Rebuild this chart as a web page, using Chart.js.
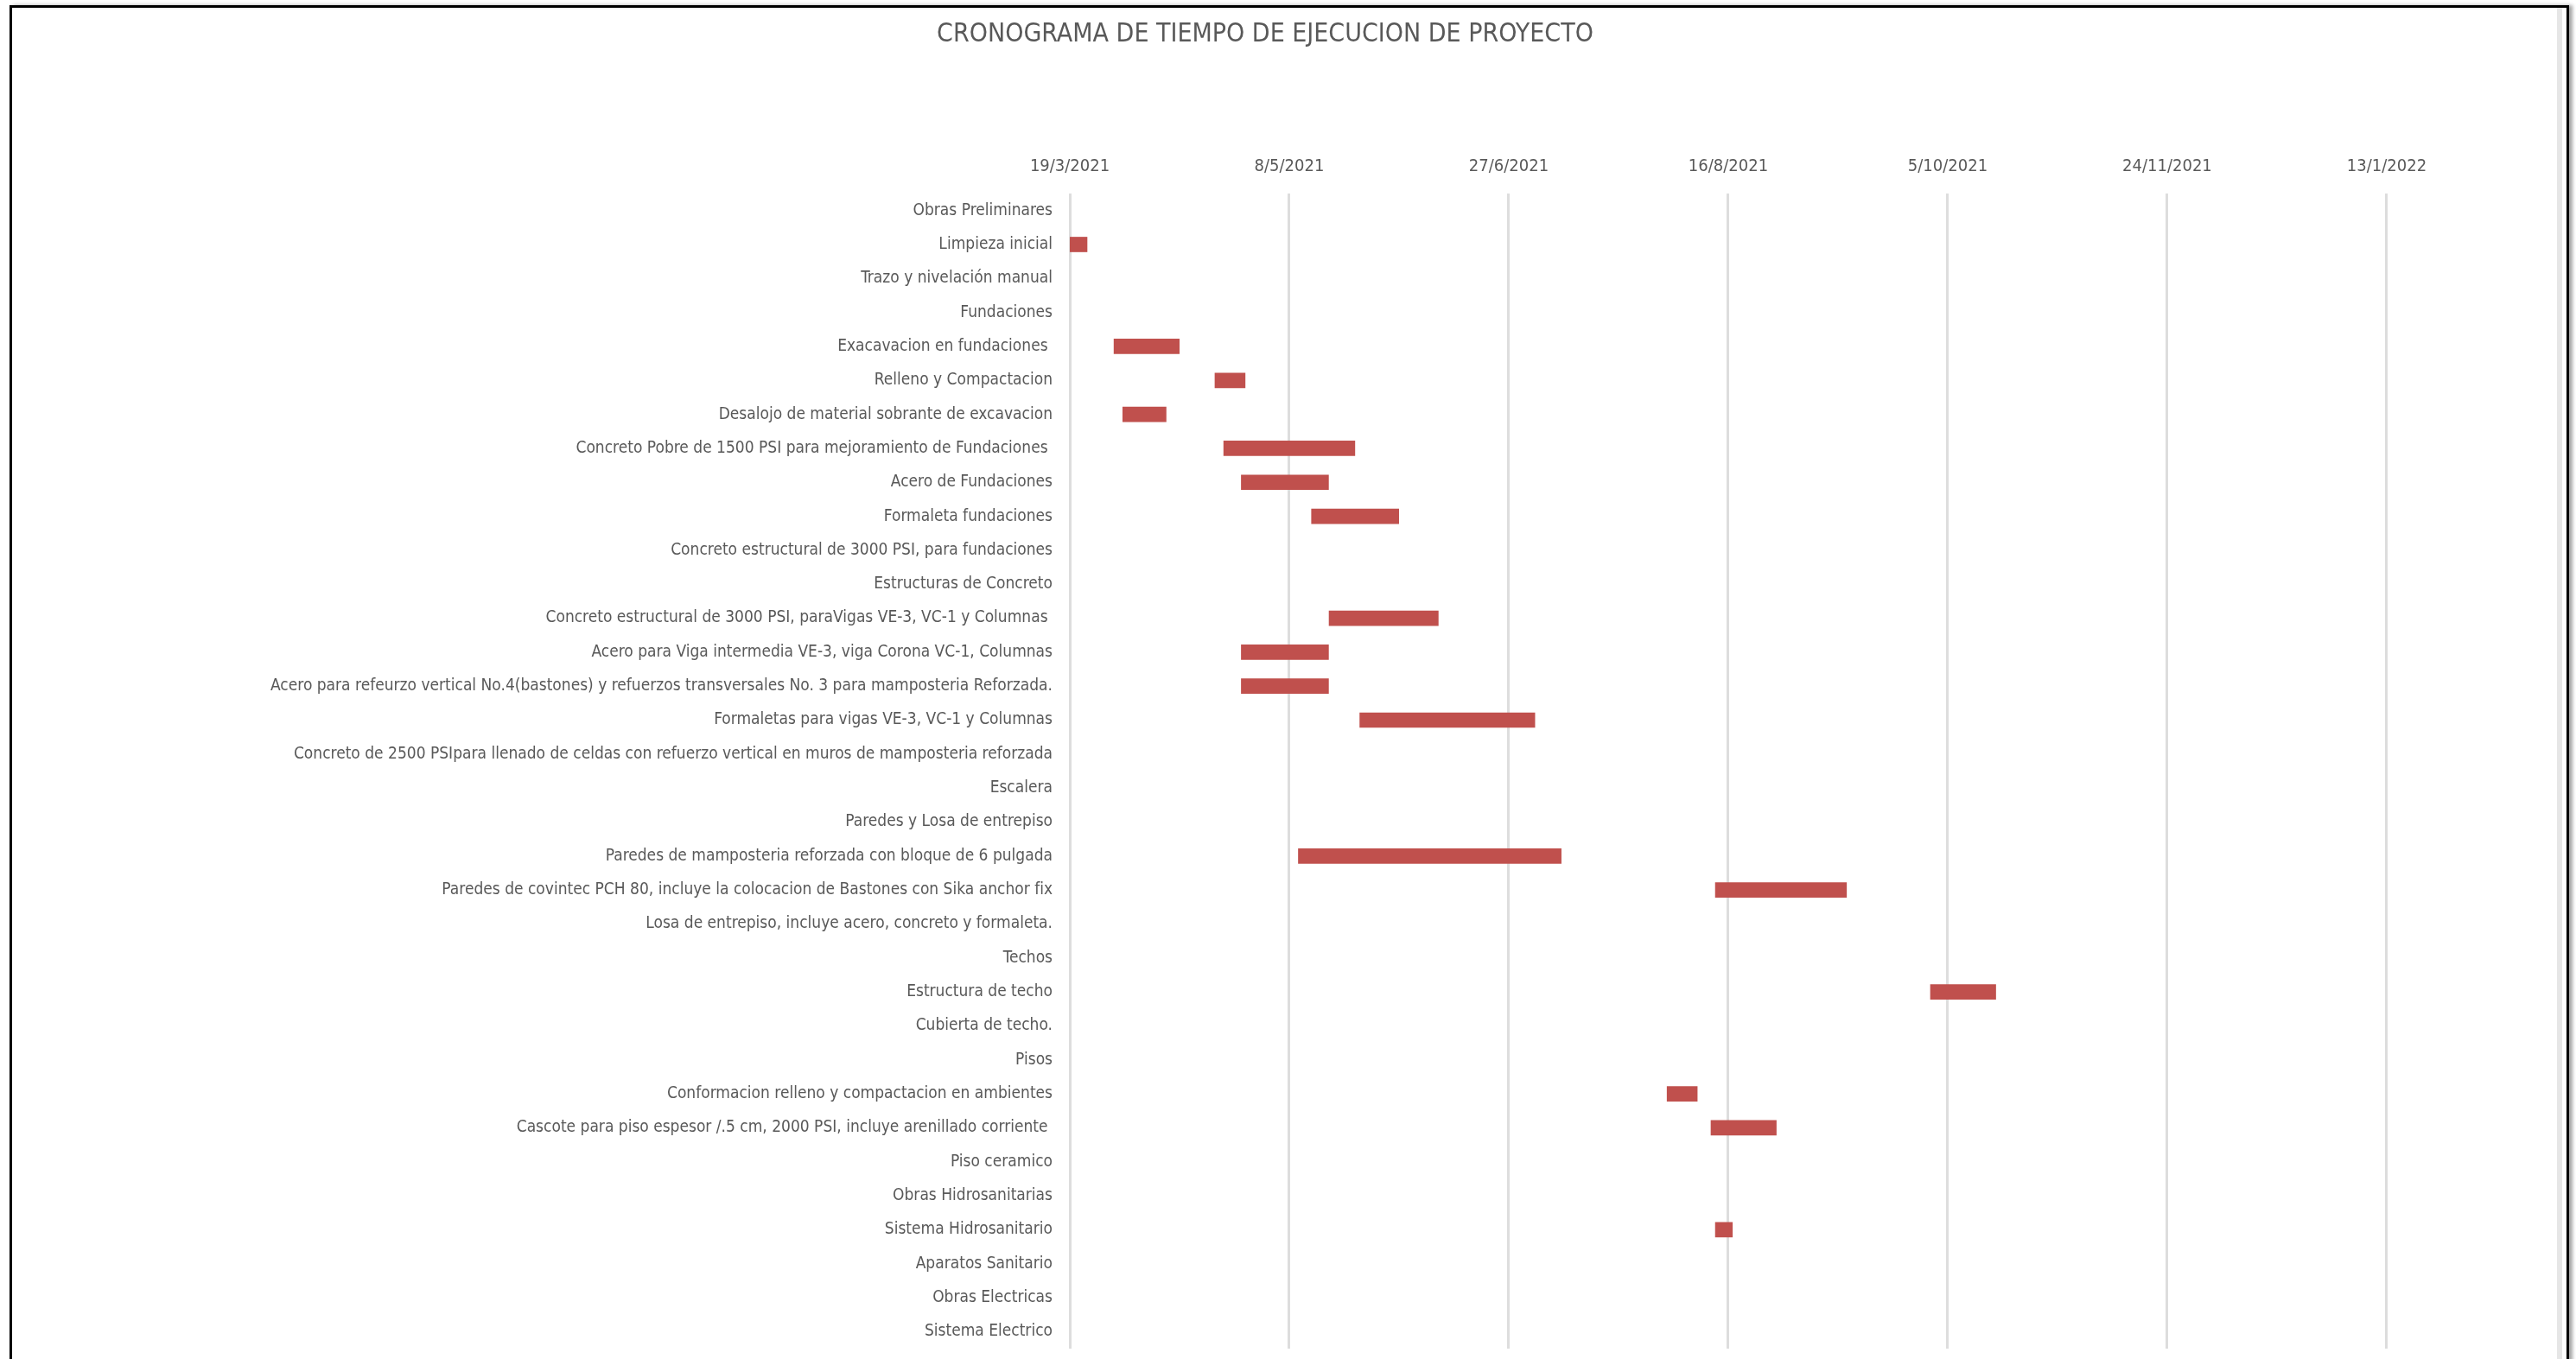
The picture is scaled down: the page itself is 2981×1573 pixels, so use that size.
<!DOCTYPE html>
<html lang="es">
<head>
<meta charset="utf-8">
<title>Cronograma de tiempo de ejecucion de proyecto</title>
<script src="https://cdn.jsdelivr.net/npm/chart.js@4.4.1/dist/chart.umd.min.js"></script>
<style>
  html, body { margin: 0; padding: 0; background: #fff; overflow: hidden; }
  #wrap { position: relative; width: 2981px; height: 1573px; }
  #gantt { position: absolute; left: 0; top: 0; }
  #frame {
    position: absolute; left: 11px; top: 6px; width: 2962px; height: 1600px;
    border: 3px solid #000; border-bottom: none; box-sizing: border-box;
    box-shadow: 4px 0 4px rgba(0,0,0,0.35); pointer-events: none;
  }
  #edge { position: absolute; left: 2959px; top: 9px; width: 6px; height: 1600px; background: #e6e6e6; }
  #title {
    position: absolute; left: 0; width: 2928px; top: 20px; text-align: center;
    font: 30px "Liberation Sans Narrow", "DejaVu Sans Condensed", sans-serif; color: #595959;
  }
</style>
</head>
<body>
<div id="wrap">
  <canvas id="gantt" width="2981" height="1573"></canvas>
  <div id="edge"></div>
  <div id="frame"></div>
  <div id="title">CRONOGRAMA DE TIEMPO DE EJECUCION DE PROYECTO</div>
</div>
<script>
// Actividades (de arriba hacia abajo)
const tasks = [
  "Obras Preliminares",
  "Limpieza inicial",
  "Trazo y nivelación manual",
  "Fundaciones",
  "Exacavacion en fundaciones ",
  "Relleno y Compactacion",
  "Desalojo de material sobrante de excavacion",
  "Concreto Pobre de 1500 PSI para mejoramiento de Fundaciones ",
  "Acero de Fundaciones",
  "Formaleta fundaciones",
  "Concreto estructural de 3000 PSI, para fundaciones",
  "Estructuras de Concreto",
  "Concreto estructural de 3000 PSI, paraVigas VE-3, VC-1 y Columnas ",
  "Acero para Viga intermedia VE-3, viga Corona VC-1, Columnas",
  "Acero para refeurzo vertical No.4(bastones) y refuerzos transversales No. 3 para mamposteria Reforzada.",
  "Formaletas para vigas VE-3, VC-1 y Columnas",
  "Concreto de 2500 PSIpara llenado de celdas con refuerzo vertical en muros de mamposteria reforzada",
  "Escalera",
  "Paredes y Losa de entrepiso",
  "Paredes de mamposteria reforzada con bloque de 6 pulgada",
  "Paredes de covintec PCH 80, incluye la colocacion de Bastones con Sika anchor fix",
  "Losa de entrepiso, incluye acero, concreto y formaleta.",
  "Techos",
  "Estructura de techo",
  "Cubierta de techo.",
  "Pisos",
  "Conformacion relleno y compactacion en ambientes",
  "Cascote para piso espesor /.5 cm, 2000 PSI, incluye arenillado corriente ",
  "Piso ceramico",
  "Obras Hidrosanitarias",
  "Sistema Hidrosanitario",
  "Aparatos Sanitario",
  "Obras Electricas",
  "Sistema Electrico"
];

// Fecha de inicio de cada actividad (null = sin barra)
const startDates = [
  null, "2021-03-19", null, null, "2021-03-29", "2021-04-21", "2021-03-31",
  "2021-04-23", "2021-04-27", "2021-05-13", null, null, "2021-05-17",
  "2021-04-27", "2021-04-27", "2021-05-24", null, null, null, "2021-05-10",
  "2021-08-13", null, null, "2021-10-01", null, null, "2021-08-02",
  "2021-08-12", null, null, "2021-08-13", null, null, null
];

// Duracion en dias
const durations = [
  null, 4, null, null, 15, 7, 10,
  30, 20, 20, null, null, 25,
  20, 20, 40, null, null, null, 60,
  30, null, null, 15, null, null, 7,
  15, null, null, 4, null, null, null
];

// Etiquetas del eje de fechas (cada 50 dias)
const dateTicks = ["19/3/2021", "8/5/2021", "27/6/2021", "16/8/2021", "5/10/2021", "24/11/2021", "13/1/2022"];
const axisEnd = "2022-02-20";

const DAY = 86400000;
const isoToDay = s => Date.parse(s + "T00:00:00Z") / DAY;
const dmyToDay = s => { const [d, m, y] = s.split("/").map(Number); return Date.UTC(y, m - 1, d) / DAY; };

const tickValues = dateTicks.map(dmyToDay);
const bars = startDates.map((s, i) => s ? [isoToDay(s), isoToDay(s) + durations[i]] : null);

const FONT = "'Liberation Sans Narrow', 'DejaVu Sans Condensed', sans-serif";
const GREY = "#595959";

new Chart(document.getElementById("gantt"), {
  type: "bar",
  data: {
    labels: tasks,
    datasets: [{
      data: bars,
      backgroundColor: "#C0504D",
      borderWidth: 0,
      barPercentage: 0.45,
      categoryPercentage: 1,
    }],
  },
  options: {
    indexAxis: "y",
    responsive: false,
    animation: false,
    devicePixelRatio: 1,
    layout: { padding: { top: 0, right: 26, bottom: 12, left: 0 } },
    plugins: { legend: { display: false }, tooltip: { enabled: false } },
    scales: {
      x: {
        type: "linear",
        position: "top",
        min: tickValues[0],
        max: isoToDay(axisEnd),
        afterFit: s => { s.height = 224; s.paddingLeft = 0; s.paddingRight = 0; },
        afterBuildTicks: s => { s.ticks = tickValues.map(v => ({ value: v })); },
        ticks: {
          callback: (v, i) => dateTicks[i],
          color: GREY,
          font: { family: FONT, size: 20 },
          padding: 19,
          maxRotation: 0,
          autoSkip: false,
        },
        grid: { color: "#DDDDDD", lineWidth: 3, drawTicks: false },
        border: { display: false },
      },
      y: {
        afterFit: s => { s.width = 1238; s.paddingTop = 0; s.paddingBottom = 0; },
        ticks: {
          color: GREY,
          font: { family: FONT, size: 19 },
          padding: 20,
          autoSkip: false,
        },
        grid: { display: false, drawTicks: false },
        border: { display: false },
      },
    },
  },
});
</script>
</body>
</html>
